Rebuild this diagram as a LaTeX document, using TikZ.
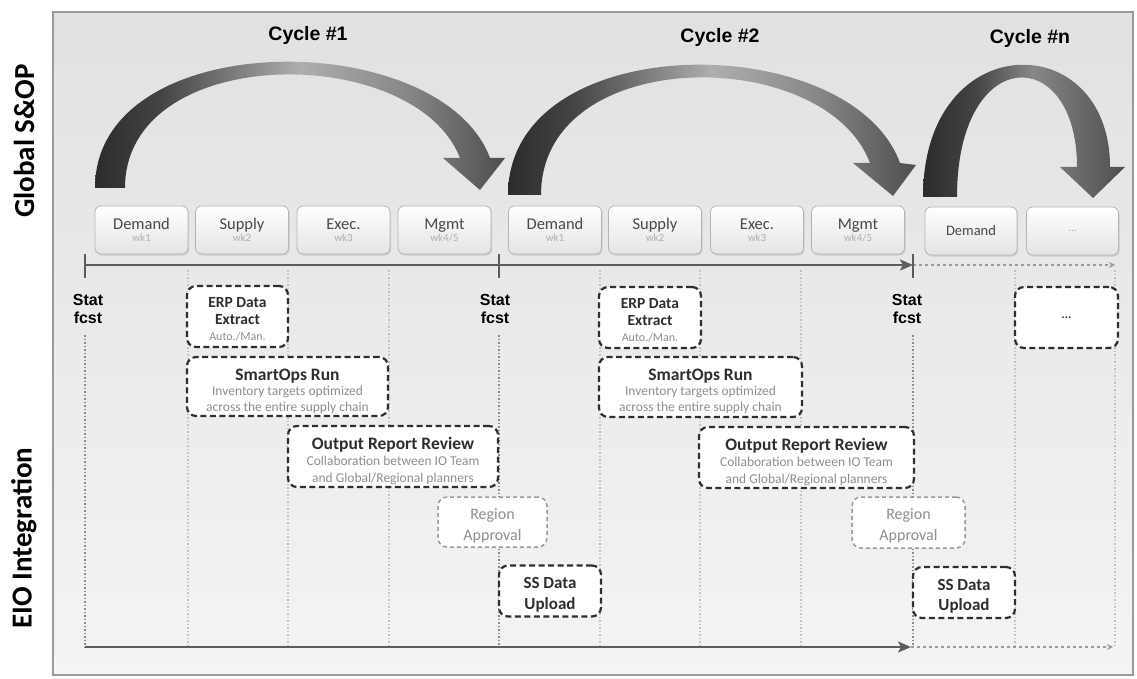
\documentclass[tikz,border=0pt]{standalone}
\usepackage{fontspec}
\setmainfont{Carlito}
\newfontfamily\headfont{Liberation Sans}
\usetikzlibrary{arrows.meta,shadows}

\definecolor{panelhi}{HTML}{E1E1E1}
\definecolor{panello}{HTML}{F4F4F4}
\definecolor{paneledge}{HTML}{9A9A9A}
\definecolor{weektext}{HTML}{484848}
\definecolor{wkgray}{HTML}{B0B0B0}
\definecolor{boxedge}{HTML}{B4B4B4}
\definecolor{boxbot}{HTML}{E4E4E4}
\definecolor{ink}{HTML}{2E2E2E}
\definecolor{subtext}{HTML}{8E8E8E}
\definecolor{softink}{HTML}{9A9A9A}
\definecolor{guide}{HTML}{C2C2C2}
\definecolor{statline}{HTML}{8A8A8A}
\definecolor{axis}{HTML}{5C5C5C}
\definecolor{arcdark}{HTML}{2C2C2C}
\definecolor{arcmid}{HTML}{444444}
\definecolor{arclight}{HTML}{AEAEAE}
\definecolor{arcgrey}{HTML}{878787}
\definecolor{archead}{HTML}{4E4E4E}

% gradient of the big cycle arrows, dark foot -> light crest -> darker head
\pgfdeclarehorizontalshading{sweep}{100bp}{color(0bp)=(arcdark); color(25bp)=(arcdark); color(33bp)=(arcmid); color(50bp)=(arclight); color(63bp)=(arcgrey); color(75bp)=(archead); color(100bp)=(archead)}
\pgfdeclarehorizontalshading{sweepn}{100bp}{color(0bp)=(arcdark); color(25bp)=(arcdark); color(38bp)=(arcmid); color(52bp)=(arcgrey); color(75bp)=(archead); color(100bp)=(archead)}

\newcommand\fsz[2]{\fontsize{#1}{#2}\selectfont}
\newcommand\wk[1]{\fsz{11}{13}\color{wkgray}#1}
\newcommand\ttl[1]{\bfseries\fsz{17.5}{19}\rule{0pt}{21pt}#1}
\newcommand\sub[1]{\mdseries\fsz{13.5}{17}\color{subtext}#1}
\newcommand\lift[1]{\rule{0pt}{#1}}

\begin{document}
\begin{tikzpicture}[x=1pt,y=-1pt,
  weekbox/.style={draw=boxedge, line width=0.8pt, rounded corners=6pt,
    top color=white, bottom color=boxbot, minimum width=93pt, minimum height=48pt,
    inner sep=0pt, align=center, text=weektext,
    drop shadow={shadow xshift=1pt, shadow yshift=-1.5pt, opacity=0.25}},
  dbox/.style={draw=ink, line width=2.2pt, dash pattern=on 6pt off 3.5pt,
    rounded corners=9pt, fill=white, inner sep=0pt, align=center, text=ink},
  softbox/.style={dbox, draw=softink, line width=1.5pt, dash pattern=on 4pt off 3pt, text=subtext},
  sidelbl/.style={rotate=90, font=\bfseries\fsz{29}{32}, text=black},
  cyclelbl/.style={font=\headfont\bfseries\fsz{19.5}{22}, text=black},
  statlbl/.style={font=\headfont\bfseries\fsz{16}{18}, align=center, text=black, inner sep=0pt},
  guideline/.style={guide, line width=1.1pt, dash pattern=on 1.5pt off 2pt},
  statdots/.style={statline, line width=1.3pt, dash pattern=on 1.5pt off 2pt},
  tline/.style={axis, line width=2pt, -{Stealth[length=13pt,width=11pt,inset=3pt]}},
  tdots/.style={softink, line width=1.2pt, dash pattern=on 3pt off 3pt, -{Stealth[length=6pt,width=6pt]}},
  tick/.style={axis, line width=1.6pt}
]
\useasboundingbox (0,0) rectangle (1137,679);

% panel
\fill[white] (0,0) rectangle (1137,679);
\shade[top color=panelhi, bottom color=panello] (53,12) rectangle (1133,675);
\draw[paneledge, line width=1.5pt] (53,12) rectangle (1133,675);

% side titles
\node[sidelbl] (gsop) at (24,141) {Global S\&OP};
\node[sidelbl] (eio) at (24,538) {EIO Integration};

% cycle titles
\node[cyclelbl] (c1) at (308,35) {Cycle \#1};
\node[cyclelbl] (c2) at (720,37) {Cycle \#2};
\node[cyclelbl] (cn) at (1030,38) {Cycle \#n};

% big cycle arrows
\shade[shading=sweep] (95,188) .. controls (95,25) and (440,25) .. (490,158) -- (505,158) -- (480,190) -- (443,158) -- (460,158) .. controls (415,42) and (125,42) .. (125,188) -- cycle;
\shade[shading=sweep] (508,195) .. controls (508,27) and (850,27) .. (900,163) -- (916,165) -- (893,196) -- (853,163) -- (870,163) .. controls (825,44) and (541,44) .. (541,195) -- cycle;
\shade[shading=sweepn] (923,197) .. controls (923,26) and (1110,26) .. (1110,167) -- (1125,167) -- (1093,198) -- (1060,167) -- (1077,167) .. controls (1077,43) and (957,43) .. (957,197) -- cycle;

% week guides
\foreach \gx in {188,288,389,600,700,801,1015,1115}
  \draw[guideline] (\gx,270) -- (\gx,645);

% forecast markers
\coordinate (t0) at (85,265);
\coordinate (t1) at (499,265);
\coordinate (t2) at (913,265);
\coordinate (t3) at (1115,265);
\coordinate (b0) at (85,647);
\coordinate (b2) at (911,647);
\coordinate (b3) at (1113,647);
\coordinate (v0) at (85,335);
\coordinate (v1) at (499,335);
\coordinate (v2) at (913,335);
\coordinate (w1) at (499,647);
\coordinate (w2) at (913,647);

\draw[statdots] (v0) -- (b0);
\draw[statdots] (v1) -- (w1);
\draw[statdots] (v2) -- (w2);

% timelines
\draw[tline] (t0) -- (t2);
\draw[tdots] (t2) -- (t3);
\draw[tline] (b0) -- (b2);
\draw[tdots] (b2) -- (b3);
\draw[tick] (85,254) -- (85,278);
\draw[tick] (499,254) -- (499,278);
\draw[tick] (913,254) -- (913,278);

% weeks of each cycle
\node[weekbox] (d1) at (141.5,230) {\fsz{16.5}{17}Demand\\\wk{wk1}};
\node[weekbox] (s1) at (242,230) {\fsz{16.5}{17}Supply\\\wk{wk2}};
\node[weekbox] (e1) at (343.5,230) {\fsz{16.5}{17}Exec.\\\wk{wk3}};
\node[weekbox] (m1) at (444.5,230) {\fsz{16.5}{17}Mgmt\\\wk{wk4/5}};
\node[weekbox] (d2) at (555,230) {\fsz{16.5}{17}Demand\\\wk{wk1}};
\node[weekbox] (s2) at (655,230) {\fsz{16.5}{17}Supply\\\wk{wk2}};
\node[weekbox] (e2) at (757,230) {\fsz{16.5}{17}Exec.\\\wk{wk3}};
\node[weekbox] (m2) at (858,230) {\fsz{16.5}{17}Mgmt\\\wk{wk4/5}};
\node[weekbox, minimum width=92pt] (dn) at (971,231) {\fsz{14.5}{16}Demand};
\node[weekbox, minimum width=92pt] (xn) at (1072.5,231) {\wk{...}};

% forecast labels
\node[statlbl] (f1) at (88,309) {Stat\\fcst};
\node[statlbl] (f2) at (495,309) {Stat\\fcst};
\node[statlbl] (f3) at (907,309) {Stat\\fcst};

% integration steps, cycle 1
\node[dbox, minimum width=101pt, minimum height=61pt, font=\bfseries\fsz{15.5}{16.5}] (erp1) at (237.5,316.5) {\lift{16pt}ERP Data\\Extract\\\sub{\fsz{12}{16}Auto./Man.}};
\node[dbox, minimum width=201pt, minimum height=59pt] (run1) at (287.5,386.5) {\ttl{SmartOps Run}\\[2pt]\sub{Inventory targets optimized}\\[4pt]\sub{across the entire supply chain}};
\node[dbox, minimum width=210pt, minimum height=61pt] (rev1) at (393,456.5) {\ttl{Output Report Review}\\[3pt]\sub{Collaboration between IO Team}\\[5pt]\sub{and Global/Regional planners}};
\node[softbox, minimum width=109pt, minimum height=50pt, font=\fsz{16}{20}] (app1) at (492.5,522) {\lift{18pt}Region\\[1pt]Approval};
\node[dbox, minimum width=102pt, minimum height=51pt, font=\bfseries\fsz{17}{19.5}] (up1) at (550,591) {\lift{19pt}SS Data\\[1pt]Upload};

% integration steps, cycle 2
\node[dbox, minimum width=102pt, minimum height=61pt, font=\bfseries\fsz{15.5}{16.5}] (erp2) at (650,317.5) {\lift{16pt}ERP Data\\Extract\\\sub{\fsz{12}{16}Auto./Man.}};
\node[dbox, minimum width=203pt, minimum height=60pt] (run2) at (700.5,387) {\ttl{SmartOps Run}\\[2pt]\sub{Inventory targets optimized}\\[4pt]\sub{across the entire supply chain}};
\node[dbox, minimum width=215pt, minimum height=61pt] (rev2) at (806.5,457.5) {\ttl{Output Report Review}\\[3pt]\sub{Collaboration between IO Team}\\[5pt]\sub{and Global/Regional planners}};
\node[softbox, minimum width=113pt, minimum height=51pt, font=\fsz{16}{20}] (app2) at (908.5,522.5) {\lift{18pt}Region\\[1pt]Approval};
\node[dbox, minimum width=102pt, minimum height=51pt, font=\bfseries\fsz{17}{19.5}] (up2) at (964,592.5) {\lift{19pt}SS Data\\[1pt]Upload};

% next cycle placeholder
\node[dbox, minimum width=103pt, minimum height=61pt, font=\bfseries\fsz{12}{14}] (nx) at (1066.5,317.5) {...};
\end{tikzpicture}
\end{document}
